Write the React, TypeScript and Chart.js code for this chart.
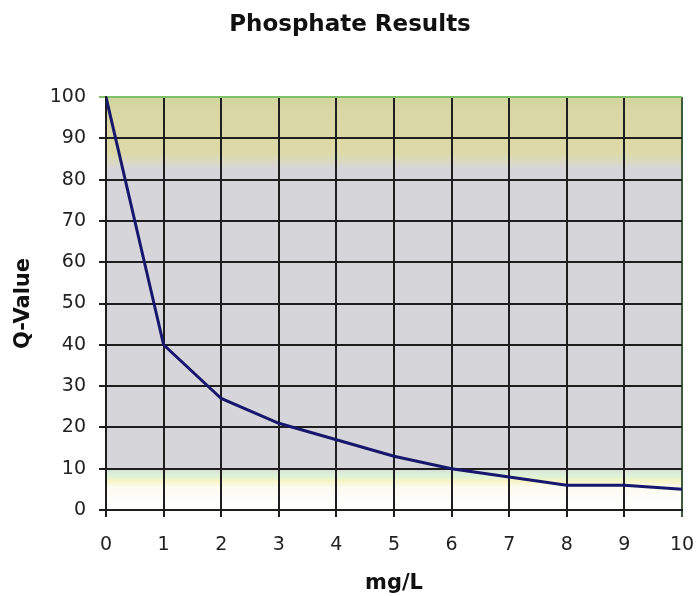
import React, { useEffect, useRef } from "react";
import { Chart, registerables } from "chart.js";

Chart.register(...registerables);

const xValues = [0, 1, 2, 3, 4, 5, 6, 7, 8, 9, 10];
const qValues = [100, 40, 27, 21, 17, 13, 10, 8, 6, 6, 5];
const titleText = "Phosphate Results";
const xTitle = "mg/L";
const yTitle = "Q-Value";

const bandPlugin = {
  id: "bands",
  beforeDraw(chart: any) {
    const { ctx, chartArea, scales } = chart;
    const y = scales.y;
    const l = chartArea.left;
    const w = chartArea.right - chartArea.left;
    const py = (v: number) => y.getPixelForValue(v);
    ctx.save();
    ctx.fillStyle = "#d6d6da";
    ctx.fillRect(l, py(100), w, py(0) - py(100));
    const g1 = ctx.createLinearGradient(0, py(100), 0, py(83));
    g1.addColorStop(0, "#d0d49c");
    g1.addColorStop(0.15, "#d8d6a2");
    g1.addColorStop(0.8, "#dddaa8");
    g1.addColorStop(1, "#d8d8d4");
    ctx.fillStyle = g1;
    ctx.fillRect(l, py(100), w, py(83) - py(100));
    const g2 = ctx.createLinearGradient(0, py(10), 0, py(0));
    g2.addColorStop(0, "#d6d6da");
    g2.addColorStop(0.1, "#dcecd8");
    g2.addColorStop(0.2, "#e0f4d4");
    g2.addColorStop(0.3, "#f8f4c6");
    g2.addColorStop(0.45, "#fbfbf2");
    g2.addColorStop(1, "#ffffff");
    ctx.fillStyle = g2;
    ctx.fillRect(l, py(10), w, py(0) - py(10));
    ctx.restore();
  },
};

export default function App() {
  const ref = useRef<HTMLCanvasElement>(null);
  useEffect(() => {
    document.body.style.margin = "0";
    const chart = new Chart(ref.current!, {
      type: "line",
      data: {
        labels: xValues,
        datasets: [
          {
            data: xValues.map((x, i) => ({ x, y: qValues[i] })),
            borderColor: "#17176e",
            borderWidth: 3,
            pointRadius: 0,
            tension: 0,
            fill: false,
          },
        ],
      },
      options: {
        responsive: false,
        animation: false,
        layout: { padding: 0 },
        plugins: {
          legend: { display: false },
          tooltip: { enabled: false },
          title: {
            display: true,
            text: titleText,
            color: "#111",
            font: { family: "DejaVu Sans", size: 23, weight: "bold", lineHeight: 1.2 },
            padding: { top: 11, bottom: 58.4 },
          },
        },
        scales: {
          x: {
            type: "linear",
            min: 0,
            max: 10,
            afterFit: (s: any) => {
              s.height = 86;
              s.paddingRight = 18;
              s.paddingLeft = 0;
            },
            ticks: {
              stepSize: 1,
              color: "#222",
              font: { family: "DejaVu Sans", size: 19 },
              padding: 17,
              maxRotation: 0,
            },
            grid: {
              color: (c: any) => (c.tick && c.tick.value === 10 ? "#3c5a3c" : "#1e1e1e"),
              lineWidth: 2,
              tickLength: 7,
              drawTicks: true,
            },
            border: { color: "#1e1e1e", width: 2 },
            title: {
              display: true,
              text: xTitle,
              color: "#111",
              font: { family: "DejaVu Sans", size: 21, weight: "bold", lineHeight: 1.2 },
              padding: { top: 0, bottom: 0 },
            },
          },
          y: {
            min: 0,
            max: 100,
            afterFit: (s: any) => {
              s.width = 106;
            },
            ticks: {
              stepSize: 10,
              color: "#222",
              font: { family: "DejaVu Sans", size: 19 },
              padding: 13,
            },
            grid: {
              color: (c: any) => (c.tick && c.tick.value === 100 ? "#7fbf6a" : "#1e1e1e"),
              lineWidth: 2,
              tickLength: 7,
            },
            border: { color: "#1e1e1e", width: 2 },
            title: {
              display: true,
              text: yTitle,
              color: "#111",
              font: { family: "DejaVu Sans", size: 21, weight: "bold", lineHeight: 1.2 },
              padding: { top: 11, bottom: 0 },
            },
          },
        },
      },
      plugins: [bandPlugin],
    });
    return () => chart.destroy();
  }, []);
  return <canvas ref={ref} width={700} height={596} />;
}
